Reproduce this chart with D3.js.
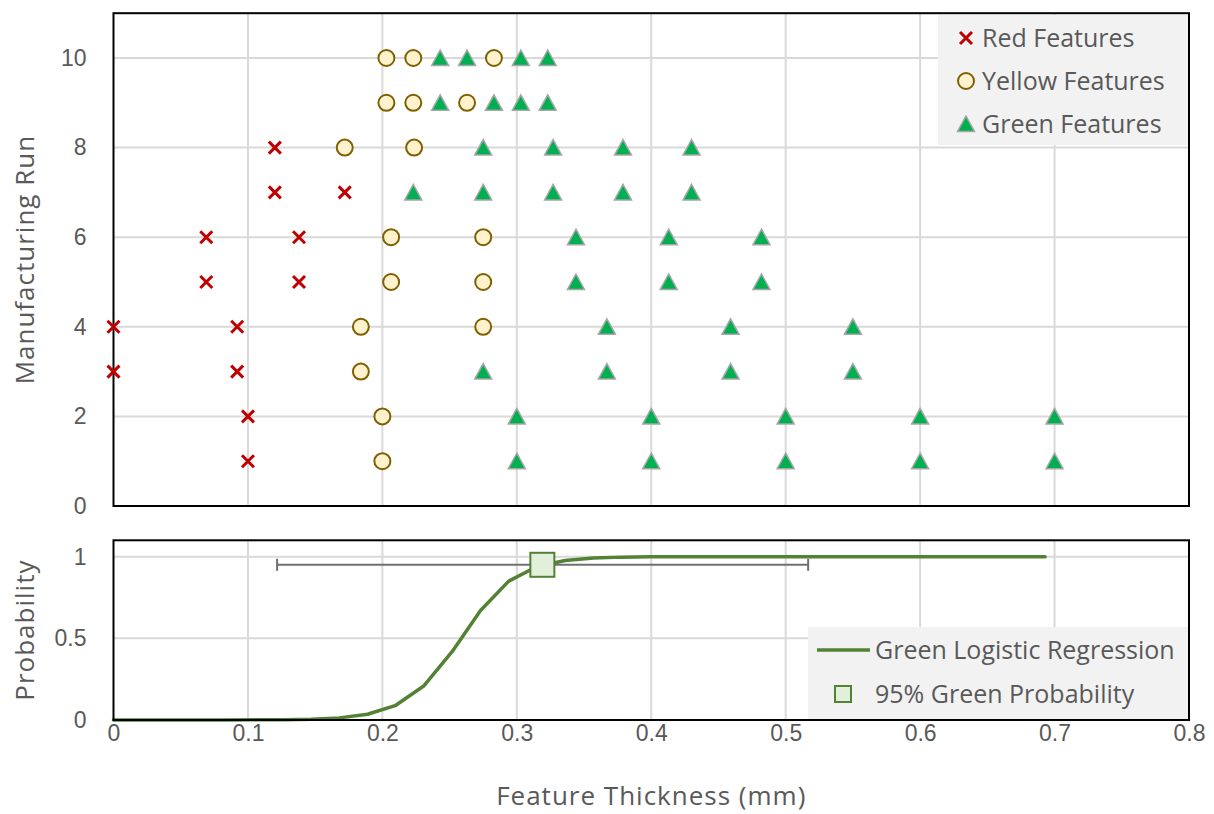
<!DOCTYPE html>
<html>
<head>
<meta charset="utf-8">
<script src="https://cdn.jsdelivr.net/npm/d3@7"></script>
<style>
  html, body { margin: 0; padding: 0; background: #fff; }
  svg { display: block; font-family: "Open Sans", "Noto Sans", sans-serif; }
</style>
</head>
<body>
<svg id="chart" width="1214" height="814"></svg>
<script>
// Feature thickness (mm) and manufacturing run for each feature class
const redThickness = [0.1, 0.1, 0, 0.092, 0, 0.092, 0.069, 0.138, 0.069, 0.138, 0.12, 0.172, 0.12];
const redRun       = [1,   2,   3, 3,     4, 4,     5,     5,     6,     6,     7,    7,     8];

const yellowThickness = [0.2, 0.2, 0.184, 0.184, 0.275, 0.2065, 0.275, 0.2065, 0.275, 0.172, 0.2236, 0.203, 0.223, 0.263, 0.203, 0.223, 0.283];
const yellowRun       = [1,   2,   3,     4,     4,     5,      5,     6,      6,     8,     8,      9,     9,     9,     10,    10,    10];

const greenThickness = [
  0.3, 0.4, 0.5, 0.6, 0.7,
  0.3, 0.4, 0.5, 0.6, 0.7,
  0.275, 0.367, 0.459, 0.55,
  0.367, 0.459, 0.55,
  0.344, 0.413, 0.482,
  0.344, 0.413, 0.482,
  0.223, 0.275, 0.327, 0.379, 0.43,
  0.275, 0.327, 0.379, 0.43,
  0.243, 0.283, 0.303, 0.323,
  0.243, 0.263, 0.303, 0.323
];
const greenRun = [
  1, 1, 1, 1, 1,
  2, 2, 2, 2, 2,
  3, 3, 3, 3,
  4, 4, 4,
  5, 5, 5,
  6, 6, 6,
  7, 7, 7, 7, 7,
  8, 8, 8, 8,
  9, 9, 9, 9,
  10, 10, 10, 10
];

// Fitted logistic curve for the green class
const curveThickness = [0, 0.021, 0.042, 0.063, 0.084, 0.105, 0.126, 0.147, 0.168, 0.189, 0.21, 0.231, 0.252, 0.273,
  0.294, 0.315, 0.336, 0.357, 0.378, 0.399, 0.42, 0.441, 0.462, 0.483, 0.504, 0.525, 0.546, 0.567, 0.588,
  0.609, 0.63, 0.651, 0.672, 0.693];
const curveProbability = [0, 0, 0, 0, 0, 0.001, 0.002, 0.005, 0.013, 0.035, 0.09, 0.21, 0.42, 0.67,
  0.85, 0.94, 0.976, 0.991, 0.997, 0.999, 1, 1, 1, 1, 1, 1, 1, 1, 1,
  1, 1, 1, 1, 1];

// 95 % green probability point with its horizontal error range
const p95Thickness = [0.319];
const p95Probability = [0.95];
const p95ErrorLow = [0.1217];
const p95ErrorHigh = [0.5167];

const xTicks = [0, 0.1, 0.2, 0.3, 0.4, 0.5, 0.6, 0.7, 0.8];
const runTicks = [0, 2, 4, 6, 8, 10];
const probTicks = [0, 0.5, 1];

const svg = d3.select("#chart");
const textColor = "#595959";
const gridColor = "#D9D9D9";
const tickFont = "23px";
const legendFont = "25px";
const titleFont = "26px";

const left = 113.5, right = 1189;
const topA = 13.2, bottomA = 506;
const topB = 540.3, bottomB = 720;

const x = d3.scaleLinear().domain([0, 0.8]).range([left, right]);
const yRun = d3.scaleLinear().domain([0, 11]).range([bottomA, topA]);
const yProb = d3.scaleLinear().domain([0, 1.1]).range([bottomB, topB]);

function grid(g, yScale, yTickVals, y0, y1) {
  g.selectAll(".vg").data(xTicks.filter(d => d > 0 && d < 0.8)).join("line")
    .attr("x1", d => x(d)).attr("x2", d => x(d))
    .attr("y1", y0).attr("y2", y1)
    .attr("stroke", gridColor).attr("stroke-width", 2);
  g.selectAll(".hg").data(yTickVals.filter(d => d > 0)).join("line")
    .attr("x1", left).attr("x2", right)
    .attr("y1", d => yScale(d)).attr("y2", d => yScale(d))
    .attr("stroke", gridColor).attr("stroke-width", 2);
}

// ---------- upper panel ----------
const gA = svg.append("g");
grid(gA.append("g"), yRun, runTicks, topA, bottomA);

const yAxisA = d3.axisLeft(yRun).tickValues(runTicks).tickSize(0).tickPadding(27).tickFormat(d3.format("d"));
gA.append("g").attr("transform", `translate(${left},0)`).call(yAxisA)
  .call(g => g.select(".domain").remove())
  .selectAll("text").attr("fill", textColor).style("font-size", tickFont);

gA.append("rect").attr("x", left).attr("y", topA).attr("width", right - left).attr("height", bottomA - topA)
  .attr("fill", "none").attr("stroke", "#000").attr("stroke-width", 2);

const red = "#C00000";
function drawX(sel, s) {
  sel.append("path")
    .attr("d", `M${-s},${-s}L${s},${s}M${-s},${s}L${s},${-s}`)
    .attr("stroke", red).attr("stroke-width", 3).attr("fill", "none");
}
function drawCircle(sel) {
  sel.append("circle").attr("r", 8).attr("fill", "#FFF2CC").attr("stroke", "#7F6000").attr("stroke-width", 2);
}
function drawTriangle(sel) {
  sel.append("path").attr("d", "M0,-8L8.5,7.5L-8.5,7.5Z")
    .attr("fill", "#00B050").attr("stroke", "#A6A6A6").attr("stroke-width", 1.5);
}

const pts = gA.append("g");
pts.selectAll(".r").data(redThickness.map((t, i) => [t, redRun[i]])).join("g")
  .attr("transform", d => `translate(${x(d[0])},${yRun(d[1])})`)
  .each(function () { drawX(d3.select(this), 6); });
pts.selectAll(".y").data(yellowThickness.map((t, i) => [t, yellowRun[i]])).join("g")
  .attr("transform", d => `translate(${x(d[0])},${yRun(d[1])})`)
  .each(function () { drawCircle(d3.select(this)); });
pts.selectAll(".g").data(greenThickness.map((t, i) => [t, greenRun[i]])).join("g")
  .attr("transform", d => `translate(${x(d[0])},${yRun(d[1])})`)
  .each(function () { drawTriangle(d3.select(this)); });

// upper legend
const legA = gA.append("g");
legA.append("rect").attr("x", 938).attr("y", 15).attr("width", 250).attr("height", 130).attr("fill", "#F2F2F2");
const legAItems = [["Red Features", drawX], ["Yellow Features", drawCircle], ["Green Features", drawTriangle]];
legAItems.forEach((it, i) => {
  const cy = 38 + i * 43;
  const m = legA.append("g").attr("transform", `translate(966,${cy})`);
  if (i === 0) it[1](m, 6); else it[1](m);
  legA.append("text").attr("x", 982).attr("y", cy).attr("dy", "0.35em")
    .attr("fill", textColor).style("font-size", legendFont).text(it[0]);
});

// y-axis title, upper
svg.append("text").attr("transform", `translate(25,${(topA + bottomA) / 2}) rotate(-90)`)
  .attr("text-anchor", "middle").attr("dy", "0.35em").attr("fill", textColor)
  .style("font-size", titleFont).style("letter-spacing", "1px").text("Manufacturing Run");

// ---------- lower panel ----------
const gB = svg.append("g");
grid(gB.append("g"), yProb, probTicks, topB, bottomB);

const yAxisB = d3.axisLeft(yProb).tickValues(probTicks).tickSize(0).tickPadding(27).tickFormat(d => d === 0.5 ? "0.5" : d3.format("d")(d));
gB.append("g").attr("transform", `translate(${left},0)`).call(yAxisB)
  .call(g => g.select(".domain").remove())
  .selectAll("text").attr("fill", textColor).style("font-size", tickFont);

const xAxis = d3.axisBottom(x).tickValues(xTicks).tickSize(0).tickPadding(5).tickFormat(d => d === 0 ? "0" : d3.format(".1f")(d));
gB.append("g").attr("transform", `translate(0,${bottomB})`).call(xAxis)
  .call(g => g.select(".domain").remove())
  .selectAll("text").attr("fill", textColor).style("font-size", tickFont);

// logistic curve
const lineGen = d3.line().x(d => x(d[0])).y(d => yProb(d[1]));
gB.append("path").datum(curveThickness.map((t, i) => [t, curveProbability[i]]))
  .attr("d", lineGen).attr("fill", "none").attr("stroke", "#548235").attr("stroke-width", 3.5)
  .attr("stroke-linejoin", "round").attr("stroke-linecap", "round");

// error bar
const ebColor = "#707070";
p95Thickness.forEach((t, i) => {
  const yy = yProb(p95Probability[i]);
  gB.append("line").attr("x1", x(p95ErrorLow[i])).attr("x2", x(p95ErrorHigh[i]))
    .attr("y1", yy).attr("y2", yy).attr("stroke", ebColor).attr("stroke-width", 2);
  [p95ErrorLow[i], p95ErrorHigh[i]].forEach(v => {
    gB.append("line").attr("x1", x(v)).attr("x2", x(v)).attr("y1", yy - 6).attr("y2", yy + 6)
      .attr("stroke", ebColor).attr("stroke-width", 2);
  });
  gB.append("rect").attr("x", x(t) - 12).attr("y", yy - 12).attr("width", 24).attr("height", 24)
    .attr("fill", "#E2EFDA").attr("stroke", "#548235").attr("stroke-width", 2);
});

// lower legend
const legB = gB.append("g");
legB.append("rect").attr("x", 808).attr("y", 627).attr("width", 380).attr("height", 92).attr("fill", "#F2F2F2");
legB.append("line").attr("x1", 817).attr("x2", 870).attr("y1", 650).attr("y2", 650)
  .attr("stroke", "#548235").attr("stroke-width", 3.5);
legB.append("text").attr("x", 875).attr("y", 650).attr("dy", "0.35em").attr("fill", textColor)
  .style("font-size", legendFont).text("Green Logistic Regression");
legB.append("rect").attr("x", 835).attr("y", 686).attr("width", 16).attr("height", 16)
  .attr("fill", "#E2EFDA").attr("stroke", "#548235").attr("stroke-width", 2);
legB.append("text").attr("x", 875).attr("y", 694).attr("dy", "0.35em").attr("fill", textColor)
  .style("font-size", legendFont).text("95% Green Probability");

gB.append("rect").attr("x", left).attr("y", topB).attr("width", right - left).attr("height", bottomB - topB)
  .attr("fill", "none").attr("stroke", "#000").attr("stroke-width", 2);

// axis titles, lower
svg.append("text").attr("transform", `translate(25,${(topB + bottomB) / 2}) rotate(-90)`)
  .attr("text-anchor", "middle").attr("dy", "0.35em").attr("fill", textColor)
  .style("font-size", titleFont).style("letter-spacing", "1px").text("Probability");
svg.append("text").attr("x", (left + right) / 2).attr("y", 796).attr("dy", "0.35em")
  .attr("text-anchor", "middle").attr("fill", textColor)
  .style("font-size", titleFont).style("letter-spacing", "1px").text("Feature Thickness (mm)");
</script>
</body>
</html>
